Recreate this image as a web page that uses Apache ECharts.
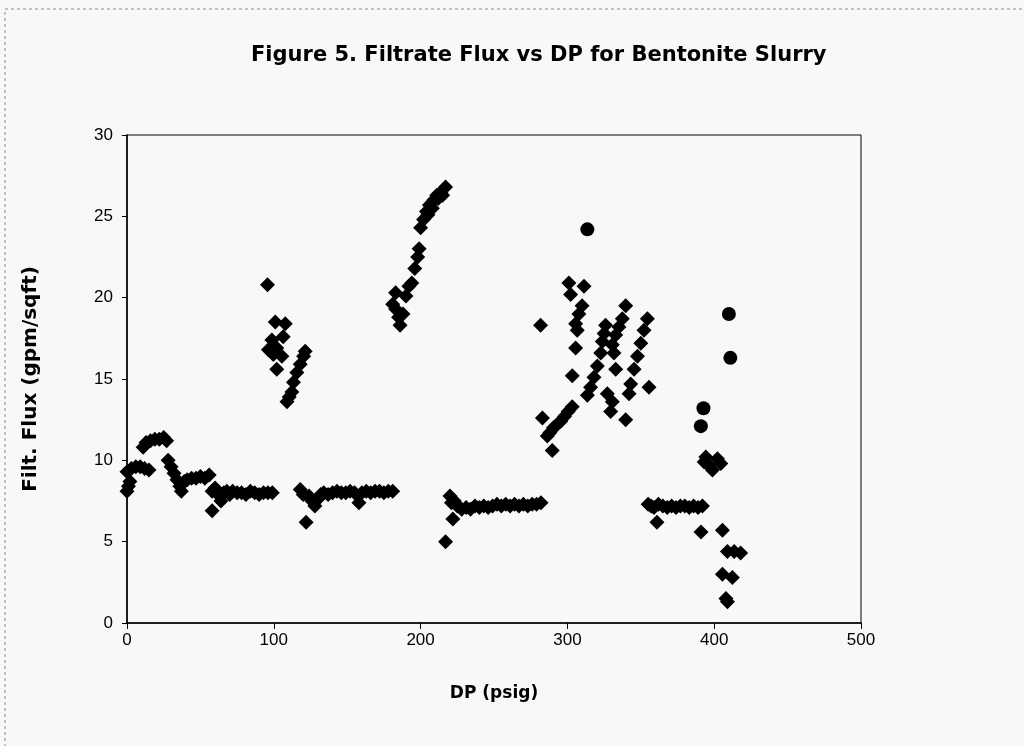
<!DOCTYPE html>
<html>
<head>
<meta charset="utf-8">
<title>Filtrate Flux vs DP</title>
<script src="https://cdn.jsdelivr.net/npm/echarts@6/dist/echarts.min.js"></script>
<style>
  html, body { margin: 0; padding: 0; background: #f7f8f8; }
  #chart { width: 1024px; height: 746px; }
</style>
</head>
<body>
<div id="chart"></div>
<script>
// DP (psig) vs Filt. Flux (gpm/sqft)
var xTicks = [0, 100, 200, 300, 400, 500]
var yTicks = [0, 5, 10, 15, 20, 25, 30]

// run 1: 0 - 60 psig
var run1 = [
    [0, 8.1], [1, 8.4], [2, 8.7], [0, 9.3], [3, 9.5], [6, 9.6], [9, 9.6], [12, 9.5], [15, 9.4],
    [11, 10.8], [13, 11.1], [16, 11.2], [19, 11.3], [22, 11.3], [25, 11.4], [27, 11.2],
    [28, 10.0], [30, 9.6], [32, 9.2], [34, 8.8], [36, 8.4], [37, 8.1], [39, 8.7], [41, 8.8],
    [44, 8.9], [47, 8.9], [50, 9.0], [53, 8.9], [56, 9.1], [58, 6.9]
]
// run 2: plateau near 8
var run2 = [
    [58, 8.1], [60, 8.3], [62, 7.9], [64, 7.5], [66, 8.0], [68, 8.1], [70, 7.9], [72, 8.1],
    [75, 8.0], [78, 8.0], [81, 7.9], [84, 8.1], [87, 8.0], [90, 7.9], [93, 8.0], [96, 8.0], [99, 8.0]
]
// run 3: rise 95 - 122 psig
var run3 = [
    [95.7, 20.8], [101, 18.5], [107.8, 18.4], [106.4, 17.6], [98.7, 17.4], [96.3, 16.8],
    [102, 16.9], [105.5, 16.4], [99.7, 16.5], [102, 15.6], [121.4, 16.7], [120.3, 16.4],
    [118, 15.9], [115.7, 15.4], [113.4, 14.8], [112.3, 14.2], [110.5, 13.9], [109, 13.6]
]
// run 4: plateau near 8
var run4 = [
    [118, 8.2], [120, 7.9], [122, 6.2], [124, 7.8], [126, 7.5], [128, 7.2], [130, 7.6], [132, 7.9],
    [134, 8.0], [137, 7.9], [140, 8.0], [143, 8.1], [146, 8.0], [149, 8.0], [152, 8.1], [155, 8.0],
    [158, 7.4], [160, 8.0], [163, 8.1], [166, 8.0], [169, 8.1], [172, 8.1], [175, 8.0], [178, 8.1], [181, 8.1]
]
// run 5: rise 180 - 218 psig
var run5 = [
    [183, 20.3], [181, 19.6], [183, 19.3], [185, 18.8], [186, 18.3], [188, 19.0], [190, 20.1],
    [192, 20.7], [194, 20.9], [196, 21.8], [198, 22.5], [199, 23.0], [200, 24.3], [202, 24.8],
    [204, 25.3], [205, 25.1], [206, 25.7], [208, 25.5], [209, 26.0], [211, 26.3], [212, 26.1],
    [214, 26.5], [215, 26.3], [217, 26.8]
]
// run 6: plateau near 7.2
var run6 = [
    [217, 5.0], [220, 7.8], [221, 7.4], [222, 6.4], [223, 7.5], [225, 7.2], [228, 7.0], [231, 7.1],
    [234, 7.0], [237, 7.2], [240, 7.1], [243, 7.2], [246, 7.1], [249, 7.2], [252, 7.3], [255, 7.2],
    [258, 7.3], [261, 7.2], [264, 7.3], [267, 7.2], [270, 7.3], [273, 7.2], [276, 7.3], [279, 7.3], [282, 7.4]
]
// run 7: scatter 280 - 356 psig
var run7 = [
    [281.7, 18.3], [301, 20.9], [311.3, 20.7], [302.2, 20.2], [310, 19.5], [307.8, 19.0],
    [305.6, 18.4], [306.7, 18.0], [305.6, 16.9], [303.3, 15.2],
    [303.3, 13.3], [300.5, 13.0], [298, 12.7], [295.5, 12.4], [293, 12.2], [290.5, 12.0],
    [288, 11.7], [286.3, 11.5], [283, 12.6], [289.7, 10.6],
    [326, 18.3], [325, 17.8], [323.8, 17.3], [322.7, 16.6], [320.4, 15.8], [318.1, 15.1],
    [315.8, 14.5], [313.6, 14.0],
    [339.7, 19.5], [337.4, 18.7], [335.1, 18.2], [332.9, 17.7], [330.6, 17.1], [331.7, 16.6],
    [332.9, 15.6], [327.2, 14.1], [330.6, 13.6], [329.5, 13.0], [339.7, 12.5],
    [354.5, 18.7], [352.2, 18.0], [350, 17.2], [347.7, 16.4], [345.4, 15.6], [343.1, 14.7],
    [342, 14.1], [355.6, 14.5]
]
// run 8: plateau near 7.2
var run8 = [
    [355, 7.3], [357, 7.2], [359, 7.1], [361, 6.2], [362, 7.3], [365, 7.2], [368, 7.1], [371, 7.2],
    [374, 7.1], [377, 7.2], [380, 7.2], [383, 7.1], [386, 7.2], [389, 7.1], [392, 7.2], [391, 5.6]
]
// run 9: end of test
var run9 = [
    [394.3, 10.2], [402.2, 10.1], [398.8, 9.4], [393.2, 9.9], [404.5, 9.8], [396.5, 9.7],
    [405.6, 5.7], [409, 4.4], [413.6, 4.4], [418, 4.3], [405.6, 3.0], [412.4, 2.8],
    [408, 1.5], [409, 1.3]
]
// circle markers
var circles = [[313.6, 24.2], [410, 19.0], [411, 16.3], [392.7, 13.2], [390.9, 12.1]]

var diamonds = [].concat(run1, run2, run3, run4, run5, run6, run7, run8, run9)

var myChart = echarts.init(document.getElementById('chart'))

var boldFont = 'DejaVu Sans, Verdana, sans-serif'
var labelFont = { color: '#000', fontSize: 17, fontFamily: 'Liberation Sans, Arial, sans-serif' }

var option = {
    backgroundColor: '#f7f8f8',
    animation: false,
    title: {
        text: 'Figure 5. Filtrate Flux vs DP for Bentonite Slurry',
        left: 246,
        top: 40,
        textStyle: { color: '#000', fontSize: 21, fontWeight: 'bold', fontFamily: boldFont }
    },
    graphic: [{
        type: 'rect',
        shape: { x: 5, y: 9, width: 1040, height: 760 },
        style: { fill: 'none', stroke: '#888', lineWidth: 1, lineDash: [3, 3] },
        silent: true
    }],
    grid: {
        left: 127, right: 163, top: 135, bottom: 123,
        show: true, borderColor: '#000', borderWidth: 1, backgroundColor: 'transparent'
    },
    xAxis: {
        type: 'value', min: xTicks[0], max: xTicks[xTicks.length - 1], interval: 100,
        name: 'DP (psig)', nameLocation: 'middle', nameGap: 62,
        nameTextStyle: { color: '#000', fontSize: 17, fontWeight: 'bold', fontFamily: boldFont },
        axisLine: { lineStyle: { color: '#000', width: 1.5 } },
        axisTick: { inside: false, length: 6, lineStyle: { color: '#000' } },
        axisLabel: Object.assign({ margin: 9 }, labelFont),
        splitLine: { show: false }
    },
    yAxis: {
        type: 'value', min: yTicks[0], max: yTicks[yTicks.length - 1], interval: 5,
        name: 'Filt. Flux (gpm/sqft)', nameLocation: 'middle', nameGap: 86,
        nameTextStyle: { color: '#000', fontSize: 20, fontWeight: 'bold', fontFamily: boldFont },
        axisLine: { show: true, lineStyle: { color: '#000', width: 1.5 } },
        axisTick: { show: true, inside: false, length: 5, lineStyle: { color: '#000' } },
        axisLabel: Object.assign({ margin: 14 }, labelFont),
        splitLine: { show: false }
    },
    series: [
        {
            name: 'diamonds', type: 'scatter', symbol: 'diamond', symbolSize: 15,
            itemStyle: { color: '#000', opacity: 1 }, data: diamonds
        },
        {
            name: 'circles', type: 'scatter', symbol: 'circle', symbolSize: 14,
            itemStyle: { color: '#000', opacity: 1 }, data: circles
        }
    ]
}
myChart.setOption(option)
window.addEventListener('resize', function () {
    myChart.resize()
})
</script>
</body>
</html>
